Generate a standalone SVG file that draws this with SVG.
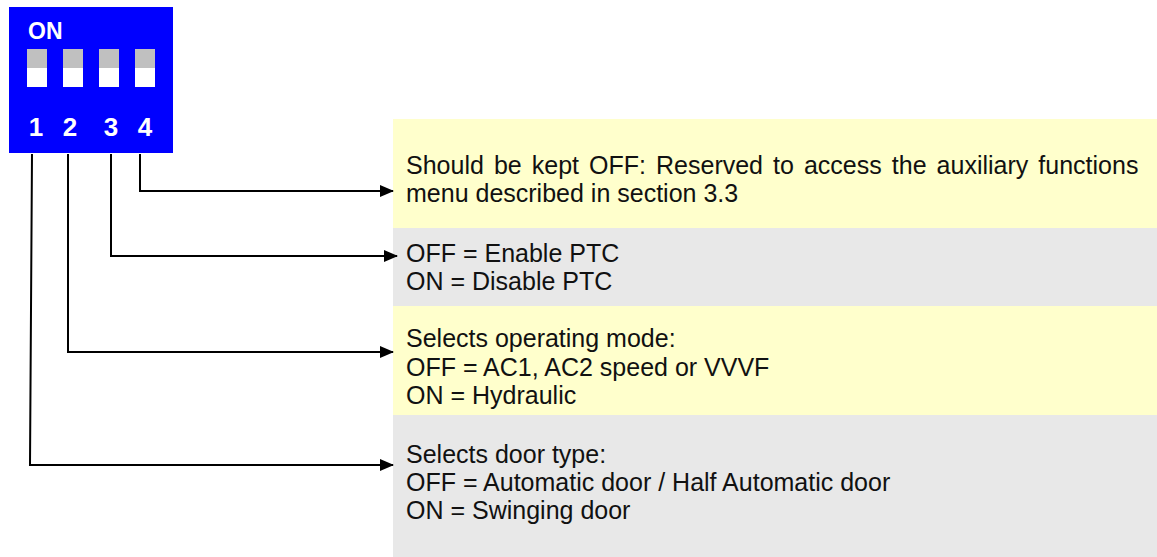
<svg xmlns="http://www.w3.org/2000/svg" width="1157" height="557" viewBox="0 0 1157 557">
<style>
.t{font-family:"Liberation Sans",Arial,sans-serif;font-size:25px;fill:#111}
.w{font-family:"Liberation Sans",Arial,sans-serif;font-weight:bold;fill:#fff}
.c{fill:none;stroke:#000;stroke-width:2}
.sw-top{fill:#c0c0c0}
.sw-bot{fill:#fff}
</style>
<defs>
<marker id="ah" markerWidth="14" markerHeight="12" refX="13" refY="6" orient="auto" markerUnits="userSpaceOnUse">
<path d="M0,0 L14,6 L0,12 Z" fill="#000"/>
</marker>
</defs>
<rect width="1157" height="557" fill="#fff"/>
<g id="dip">
<rect x="9" y="7" width="164" height="146" fill="#0000ff"/>
<text class="w" x="28" y="39" font-size="23">ON</text>
<rect class="sw-top" x="27" y="49" width="20" height="19"/><rect class="sw-bot" x="27" y="68" width="20" height="19"/>
<rect class="sw-top" x="63" y="49" width="20" height="19"/><rect class="sw-bot" x="63" y="68" width="20" height="19"/>
<rect class="sw-top" x="99" y="49" width="20" height="19"/><rect class="sw-bot" x="99" y="68" width="20" height="19"/>
<rect class="sw-top" x="135" y="49" width="20" height="19"/><rect class="sw-bot" x="135" y="68" width="20" height="19"/>
<text class="w" font-size="26" text-anchor="middle" y="136"><tspan x="36">1</tspan><tspan x="70">2</tspan><tspan x="111">3</tspan><tspan x="145">4</tspan></text>
</g>
<g id="box4">
<rect x="393" y="119" width="764" height="109" fill="#ffffcc"/>
<text class="t" x="406" y="174" word-spacing="3.1">Should be kept OFF: Reserved to access the auxiliary functions</text>
<text class="t" x="406" y="202">menu described in section 3.3</text>
</g>
<g id="box3">
<rect x="393" y="228" width="764" height="78" fill="#e8e8e8"/>
<text class="t" x="406" y="262">OFF = Enable PTC</text>
<text class="t" x="406" y="290">ON = Disable PTC</text>
</g>
<g id="box2">
<rect x="393" y="306" width="764" height="109" fill="#ffffcc"/>
<text class="t" x="406" y="347">Selects operating mode:</text>
<text class="t" x="406" y="376">OFF = AC1, AC2 speed or VVVF</text>
<text class="t" x="406" y="404">ON = Hydraulic</text>
</g>
<g id="box1">
<rect x="393" y="415" width="764" height="142" fill="#e8e8e8"/>
<text class="t" x="406" y="463">Selects door type:</text>
<text class="t" x="406" y="491">OFF = Automatic door / Half Automatic door</text>
<text class="t" x="406" y="519">ON = Swinging door</text>
</g>
<g id="connectors">
<polyline class="c" points="140,154 140,191 393,191" marker-end="url(#ah)"/>
<polyline class="c" points="111,154 111,256 397,256" marker-end="url(#ah)"/>
<polyline class="c" points="68,154 68,352 393,352" marker-end="url(#ah)"/>
<polyline class="c" points="32,154 30,465 393,465" marker-end="url(#ah)"/>
</g>
</svg>
